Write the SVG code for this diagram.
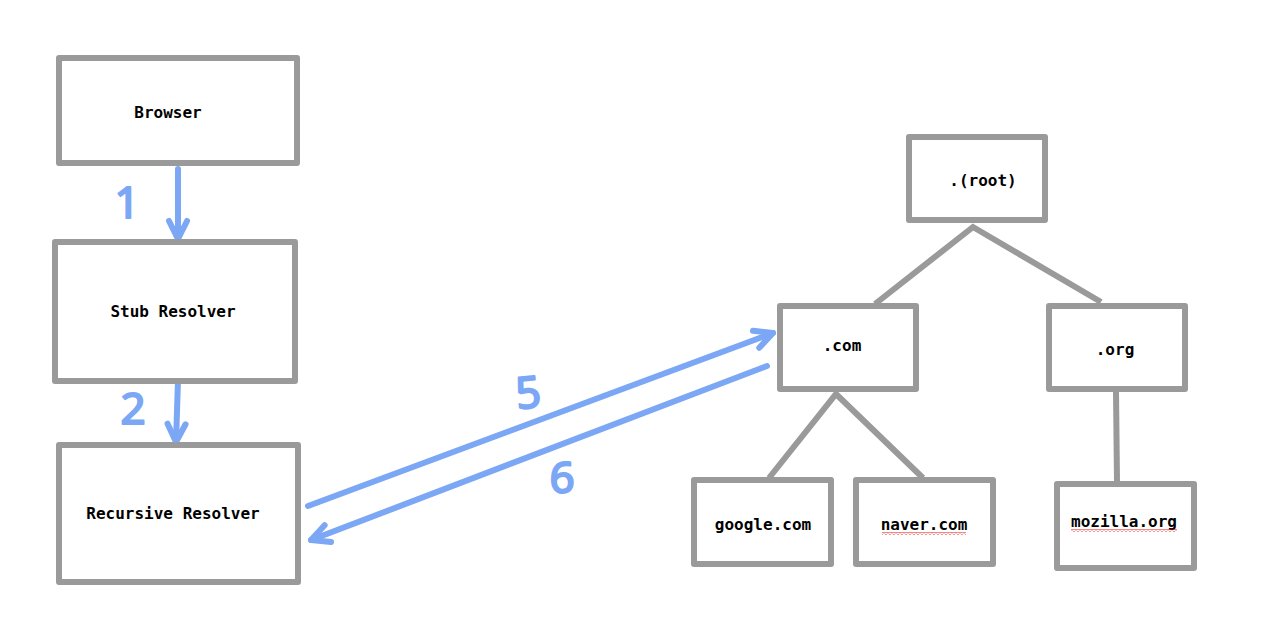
<svg xmlns="http://www.w3.org/2000/svg" width="1280" height="635" viewBox="0 0 1280 635">
  <style>
    .box { fill: #ffffff; stroke: #9a9a9a; stroke-width: 6; stroke-linejoin: round; }
    .label { font-family: "DejaVu Sans Mono", "Liberation Mono", monospace; font-weight: bold; font-size: 16px; fill: #000000; text-anchor: middle; }
    .tree { stroke: #9a9a9a; stroke-width: 6; fill: none; stroke-linecap: butt; }
    .flow { stroke: #7ba7f5; stroke-width: 6; fill: none; stroke-linecap: round; }
    .num { font-family: "Noto Sans", "DejaVu Sans", sans-serif; font-size: 44px; fill: #7ba7f5; stroke: #7ba7f5; stroke-width: 2; stroke-linejoin: round; text-anchor: middle; }
  </style>
  <defs>
    <marker id="head" viewBox="-24 -14 28 28" refX="0" refY="0" markerWidth="28" markerHeight="28" markerUnits="userSpaceOnUse" orient="auto" overflow="visible">
      <path d="M-18,-9 L0,0 L-18,9" fill="none" stroke="#7ba7f5" stroke-width="6" stroke-linecap="round" stroke-linejoin="round"/>
    </marker>
    <pattern id="squiggle" x="0" y="0" width="4" height="3" patternUnits="userSpaceOnUse">
      <path d="M0,2.5 L2,0.5 L4,2.5" fill="none" stroke="#e01010" stroke-width="1"/>
    </pattern>
  </defs>
  <rect width="1280" height="635" fill="#ffffff"/>

  <g id="connectors">
    <line class="flow" x1="178" y1="169" x2="178" y2="239" marker-end="url(#head)"/>
    <line class="flow" x1="178" y1="380" x2="176" y2="442" marker-end="url(#head)"/>
    <line class="flow" x1="308" y1="506" x2="773" y2="333" marker-end="url(#head)"/>
    <line class="flow" x1="767" y1="366" x2="311" y2="540" marker-end="url(#head)"/>
    <polyline class="tree" points="875,304 973,227 1101,302"/>
    <polyline class="tree" points="769,478 836,394 923,478"/>
    <line class="tree" x1="1116" y1="391" x2="1117" y2="482"/>
  </g>

  <g id="labels">
    <text class="num" x="127" y="218">1</text>
    <text class="num" x="133" y="424">2</text>
    <text class="num" x="528" y="408" transform="rotate(-6 528 390)">5</text>
    <text class="num" x="562" y="493">6</text>
  </g>

  <g id="browser">
    <rect class="box" x="59" y="58" width="238" height="105"/>
    <text class="label" x="168" y="118">Browser</text>
  </g>
  <g id="stub-resolver">
    <rect class="box" x="55" y="242" width="240" height="139"/>
    <text class="label" x="173" y="317">Stub Resolver</text>
  </g>
  <g id="recursive-resolver">
    <rect class="box" x="59" y="445" width="239" height="137"/>
    <text class="label" x="173" y="519">Recursive Resolver</text>
  </g>
  <g id="root">
    <rect class="box" x="909" y="137" width="136" height="83"/>
    <text class="label" x="983" y="186">.(root)</text>
  </g>
  <g id="com">
    <rect class="box" x="780" y="306" width="136" height="83"/>
    <text class="label" x="842" y="351">.com</text>
  </g>
  <g id="org">
    <rect class="box" x="1049" y="306" width="136" height="83"/>
    <text class="label" x="1115" y="355">.org</text>
  </g>
  <g id="google">
    <rect class="box" x="694" y="480" width="137" height="84"/>
    <text class="label" x="763" y="530">google.com</text>
  </g>
  <g id="naver">
    <rect class="box" x="856" y="480" width="137" height="84"/>
    <text class="label" x="924" y="530">naver.com</text>
    <rect x="882" y="532" width="84" height="3" fill="url(#squiggle)"/>
  </g>
  <g id="mozilla">
    <rect class="box" x="1057" y="484" width="137" height="84"/>
    <text class="label" x="1124" y="527">mozilla.org</text>
    <rect x="1071" y="529" width="106" height="3" fill="url(#squiggle)"/>
  </g>
</svg>
